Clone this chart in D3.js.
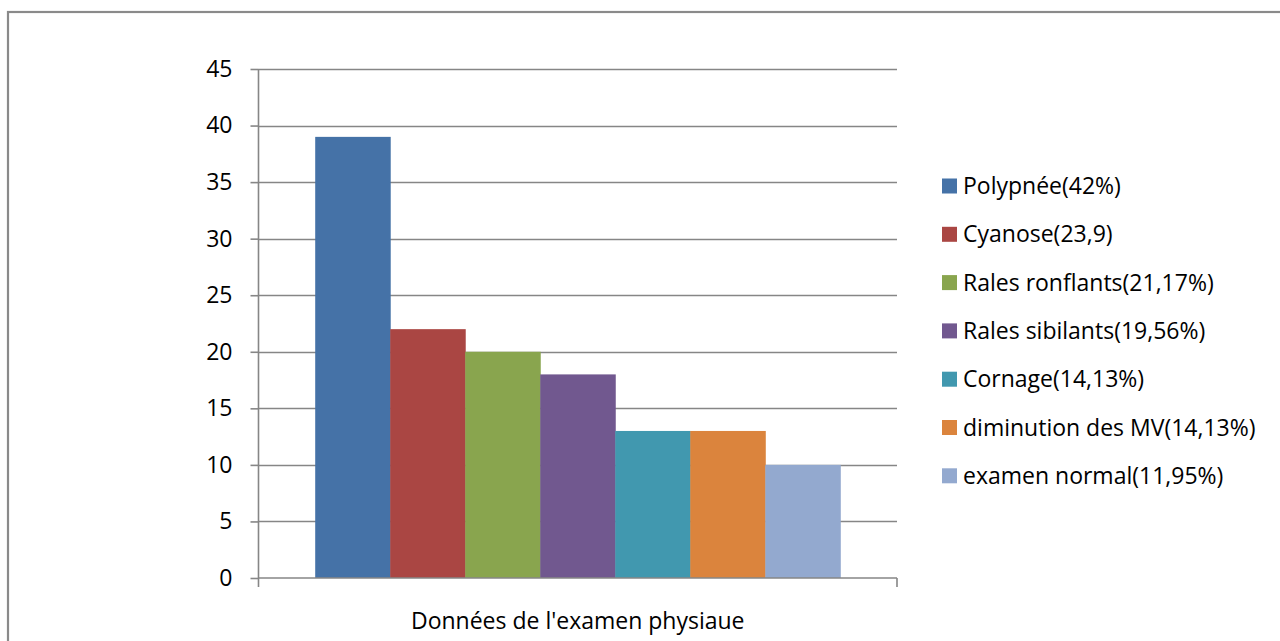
<!DOCTYPE html>
<html>
<head>
<meta charset="utf-8">
<script src="https://cdn.jsdelivr.net/npm/d3@7"></script>
<style>
  html, body { margin: 0; padding: 0; background: #fff; }
  svg { display: block; }
  text { font-family: "Open Sans", "Noto Sans", sans-serif; fill: #000; }
</style>
</head>
<body>
<svg id="chart" width="1280" height="641"></svg>
<script>
// Physical examination findings (counts) with their legend labels
const categories = [
  "Polypnée(42%)",
  "Cyanose(23,9)",
  "Rales ronflants(21,17%)",
  "Rales sibilants(19,56%)",
  "Cornage(14,13%)",
  "diminution des MV(14,13%)",
  "examen normal(11,95%)"
];
const values = [39, 22, 20, 18, 13, 13, 10];
const colors = ["#4572A7", "#AA4643", "#89A54E", "#71588F", "#4198AF", "#DB843D", "#93A9CF"];
const yTicks = [0, 5, 10, 15, 20, 25, 30, 35, 40, 45];
const groupLabel = "Données de l'examen physiaue";

const svg = d3.select("#chart");
const W = 1280, H = 641;
const FONT = "23px";

// Outer chart frame (extends past the right and bottom edges)
svg.append("rect")
  .attr("x", 8).attr("y", 12)
  .attr("width", W + 20).attr("height", H + 20)
  .attr("fill", "#fff")
  .attr("stroke", "#8a8a8a")
  .attr("stroke-width", 2.2);

const plot = { left: 258.5, right: 897, top: 69, bottom: 578 };

const y = d3.scaleLinear().domain([0, 45]).range([plot.bottom, plot.top]);

// Single category group; series placed side by side inside it
const x0 = d3.scaleBand().domain([groupLabel]).range([plot.left, plot.right]).paddingInner(0).paddingOuter(0.108);
const x1 = d3.scaleBand().domain(d3.range(values.length)).range([0, x0.bandwidth()]).padding(0);

// Horizontal gridlines
svg.append("g")
  .selectAll("line")
  .data(yTicks.filter(d => d > 0))
  .join("line")
  .attr("x1", plot.left).attr("x2", plot.right)
  .attr("y1", d => Math.round(y(d)) + 0.5).attr("y2", d => Math.round(y(d)) + 0.5)
  .attr("stroke", "#868686").attr("stroke-width", 1.6);

// Bars
svg.append("g")
  .attr("transform", `translate(${x0(groupLabel)},0)`)
  .selectAll("rect")
  .data(values)
  .join("rect")
  .attr("x", (d, i) => x1(i))
  .attr("width", x1.bandwidth() + 0.5)
  .attr("y", d => y(d))
  .attr("height", d => y(0) - y(d))
  .attr("fill", (d, i) => colors[i]);

// Y axis
const yAxis = svg.append("g")
  .attr("transform", `translate(${plot.left},0)`)
  .call(d3.axisLeft(y).tickValues(yTicks).tickSize(8).tickPadding(18).tickFormat(d3.format("d")));
yAxis.select(".domain").attr("stroke", "#868686").attr("stroke-width", 1.6).attr("d", `M0,${plot.top}V${plot.bottom}`);
yAxis.selectAll(".tick line").attr("stroke", "#868686").attr("stroke-width", 1.6);
yAxis.selectAll(".tick text").style("font-size", FONT).attr("fill", "#000");

// X axis with outer tick marks at the category boundaries
const xAxis = svg.append("g")
  .attr("transform", `translate(0,${plot.bottom})`)
  .call(d3.axisBottom(x0).tickSize(0).tickFormat(""));
xAxis.select(".domain").remove();
xAxis.append("path")
  .attr("d", `M${plot.left},0H${plot.right}M${plot.left},0V9M${plot.right},0V9`)
  .attr("fill", "none")
  .attr("stroke", "#868686").attr("stroke-width", 1.6);
xAxis.append("text")
  .attr("x", x0(groupLabel) + x0.bandwidth() / 2)
  .attr("y", 51)
  .attr("text-anchor", "middle")
  .style("font-size", FONT)
  .text(groupLabel);

// Legend
const legend = svg.append("g").attr("transform", "translate(942,186)");
const rows = legend.selectAll("g")
  .data(categories)
  .join("g")
  .attr("transform", (d, i) => `translate(0,${i * 48.3})`);
rows.append("rect")
  .attr("x", 0).attr("y", -7.5)
  .attr("width", 15).attr("height", 15)
  .attr("fill", (d, i) => colors[i]);
rows.append("text")
  .attr("x", 21).attr("y", 0)
  .attr("dy", "0.35em")
  .style("font-size", FONT)
  .text(d => d);
</script>
</body>
</html>
